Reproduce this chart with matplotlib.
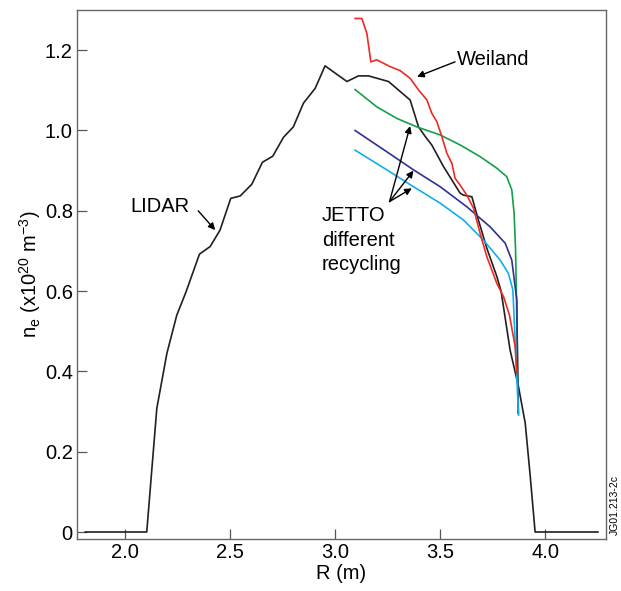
import matplotlib
matplotlib.use("Agg")
import matplotlib.pyplot as plt

plt.rcParams['font.family'] = ['Liberation Sans', 'DejaVu Sans']

# LIDAR profile
lidar_r = [1.81, 2.103, 2.151, 2.199, 2.246, 2.290, 2.354, 2.405, 2.452, 2.503, 2.548,
           2.603, 2.654, 2.703, 2.754, 2.801, 2.849, 2.905, 2.952, 3.056, 3.111, 3.159,
           3.254, 3.310, 3.357, 3.397, 3.429, 3.460, 3.516, 3.595, 3.611, 3.651, 3.682,
           3.722, 3.770, 3.790, 3.833, 3.873, 3.905, 3.929, 3.952, 4.251]
lidar_n = [0.0, 0.0, 0.308, 0.445, 0.540, 0.598, 0.692, 0.711, 0.752, 0.831, 0.837,
           0.866, 0.921, 0.936, 0.983, 1.009, 1.068, 1.105, 1.161, 1.122, 1.136, 1.136,
           1.122, 1.097, 1.076, 1.009, 0.985, 0.964, 0.910, 0.844, 0.839, 0.835, 0.777,
           0.707, 0.636, 0.600, 0.453, 0.362, 0.271, 0.138, 0.0, 0.0]

# Weiland model
weiland_r = [3.095, 3.127, 3.151, 3.170, 3.198, 3.262, 3.310, 3.357, 3.397, 3.437, 3.460,
             3.484, 3.508, 3.532, 3.556, 3.571, 3.595, 3.627, 3.659, 3.690, 3.722, 3.770,
             3.802, 3.830, 3.857, 3.865]
weiland_n = [1.279, 1.279, 1.242, 1.171, 1.176, 1.159, 1.149, 1.130, 1.101, 1.076, 1.043,
             1.022, 0.985, 0.943, 0.918, 0.881, 0.864, 0.839, 0.806, 0.744, 0.686, 0.619,
             0.586, 0.540, 0.462, 0.395]

# JETTO, different recycling
jetto_g_r = [3.095, 3.198, 3.294, 3.389, 3.500, 3.595, 3.690, 3.770, 3.817, 3.841, 3.852,
             3.859, 3.873]
jetto_g_n = [1.102, 1.059, 1.030, 1.009, 0.989, 0.964, 0.935, 0.906, 0.885, 0.852, 0.794,
             0.702, 0.296]

jetto_b_r = [3.095, 3.246, 3.373, 3.500, 3.627, 3.738, 3.810, 3.841, 3.857, 3.865, 3.871]
jetto_b_n = [1.000, 0.947, 0.902, 0.860, 0.810, 0.760, 0.719, 0.677, 0.611, 0.578, 0.296]

jetto_c_r = [3.095, 3.246, 3.373, 3.500, 3.611, 3.706, 3.786, 3.825, 3.846, 3.857, 3.873]
jetto_c_n = [0.951, 0.902, 0.860, 0.819, 0.777, 0.727, 0.677, 0.644, 0.603, 0.478, 0.291]

xticks = [2.0, 2.5, 3.0, 3.5, 4.0]
xlabels = ["2.0", "2.5", "3.0", "3.5", "4.0"]
yticks = [0, 0.2, 0.4, 0.6, 0.8, 1.0, 1.2]
ylabels = ["0", "0.2", "0.4", "0.6", "0.8", "1.0", "1.2"]

fs = 14.5

fig = plt.figure(figsize=(6.21, 5.91), dpi=100)
ax = fig.add_axes([0.124, 0.088, 0.852, 0.895])

lw = 1.2
ax.plot(lidar_r, lidar_n, color="#231f20", lw=lw)
ax.plot(jetto_g_r, jetto_g_n, color="#12a04a", lw=lw)
ax.plot(jetto_b_r, jetto_b_n, color="#2e3192", lw=lw)
ax.plot(jetto_c_r, jetto_c_n, color="#12aee8", lw=lw)
ax.plot(weiland_r, weiland_n, color="#ee2a24", lw=lw)

ax.set_xlim(1.771, 4.29)
ax.set_ylim(-0.0174, 1.300)
ax.set_xticks(xticks)
ax.set_xticklabels(xlabels)
ax.set_yticks(yticks)
ax.set_yticklabels(ylabels)
ax.tick_params(direction='in', length=7.5, width=0.9, color='#555555',
               labelsize=fs, top=False, right=False)
ax.tick_params(axis='x', pad=3)
ax.tick_params(axis='y', pad=3)
for s in ax.spines.values():
    s.set_color('#666666')
    s.set_linewidth(1.0)

ax.set_xlabel("R (m)", fontsize=fs, labelpad=1)
ax.set_ylabel(r"n$_\mathregular{e}$ (x10$^\mathregular{20}$ m$^\mathregular{-3}$)", fontsize=fs, labelpad=1)

arrow = dict(arrowstyle="-|>", color="black", lw=1.0, mutation_scale=10, shrinkA=0, shrinkB=0)
ax.annotate("", xy=(3.390, 1.134), xytext=(3.571, 1.171), arrowprops=arrow)
ax.text(3.581, 1.163, "Weiland", fontsize=fs, va='baseline', ha='left')
ax.annotate("", xy=(2.429, 0.752), xytext=(2.348, 0.800), arrowprops=arrow)
ax.text(2.024, 0.798, "LIDAR", fontsize=fs, va='baseline', ha='left')

tail = (3.259, 0.823)
for head in [(3.357, 1.011), (3.373, 0.900), (3.365, 0.856)]:
    ax.annotate("", xy=head, xytext=tail, arrowprops=arrow)
ax.text(2.938, 0.653, "JETTO\ndifferent\nrecycling", fontsize=fs, va='baseline', ha='left',
        linespacing=1.35)

fig.text(0.990, 0.146, "JG01.213-2c", rotation=90, fontsize=7.5, ha='center', va='center')

fig.savefig("out.png", dpi=100)
